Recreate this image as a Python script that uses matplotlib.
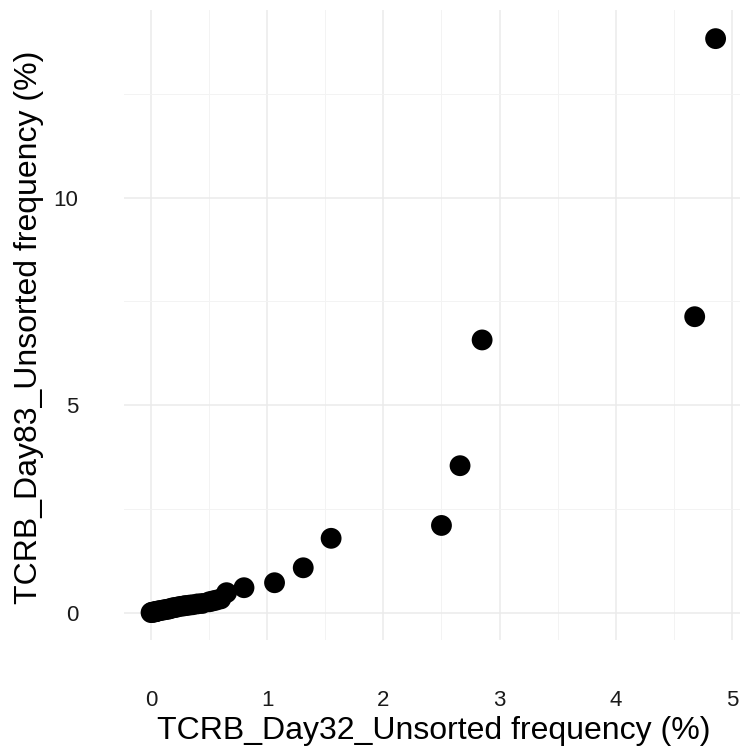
import matplotlib
matplotlib.use("Agg")
import matplotlib.pyplot as plt
from matplotlib.ticker import MultipleLocator

plt.rcParams['font.family'] = ['Liberation Sans', 'DejaVu Sans']

# Data
day32 = [0.00, 0.01, 0.02, 0.03, 0.04, 0.05, 0.06, 0.08, 0.10, 0.12, 0.14,
         0.16, 0.18, 0.20, 0.22, 0.25, 0.28, 0.30, 0.33, 0.36, 0.40, 0.44,
         0.50, 0.53, 0.56, 0.60, 0.65, 0.80, 1.063, 1.31, 1.55, 2.50,
         2.66, 2.85, 4.68, 4.86]
day83 = [0.00, 0.01, 0.01, 0.02, 0.02, 0.03, 0.04, 0.05, 0.06, 0.07, 0.08,
         0.09, 0.11, 0.12, 0.13, 0.15, 0.16, 0.17, 0.18, 0.19, 0.21, 0.22,
         0.26, 0.28, 0.30, 0.33, 0.48, 0.60, 0.72, 1.08, 1.79, 2.10,
         3.54, 6.57, 7.13, 13.83]

x_ticks = [0, 1, 2, 3, 4, 5]
y_ticks = [0, 5, 10]
x_title = "TCRB_Day32_Unsorted frequency (%)"
y_title = "TCRB_Day83_Unsorted frequency (%)"

W, H = 740, 746
fig = plt.figure(figsize=(W / 100, H / 100), dpi=100)

left_px, right_px, top_px, bottom_px = 124, 740, 10, 640
ax = fig.add_axes([left_px / W, (H - bottom_px) / H,
                   (right_px - left_px) / W, (bottom_px - top_px) / H])

ax.scatter(day32, day83, s=225, color='black', edgecolors='none', zorder=3)

ax.set_xlim(-0.233, 5.07)
ax.set_ylim(-0.66, 14.52)

ax.set_xticks(x_ticks)
ax.set_yticks(y_ticks)
ax.set_xticklabels([str(t) for t in x_ticks])
ax.set_yticklabels([str(t) for t in y_ticks])
ax.xaxis.set_minor_locator(MultipleLocator(0.5))
ax.yaxis.set_minor_locator(MultipleLocator(2.5))

ax.grid(which='major', color='#EBEBEB', linewidth=1.1, zorder=0)
ax.grid(which='minor', color='#F3F3F3', linewidth=0.7, zorder=0)
ax.set_axisbelow(True)

for sp in ax.spines.values():
    sp.set_visible(False)

ax.tick_params(which='both', length=0)
ax.tick_params(axis='x', labelsize=16, pad=36, labelcolor='#1a1a1a')
ax.tick_params(axis='y', labelsize=16, pad=33, labelcolor='#1a1a1a')

fig.text(433.5 / W, (H - 739) / H, x_title,
         ha='center', va='baseline', fontsize=23, color='black')
fig.text(29 / W, (H - 327) / H, y_title,
         ha='center', va='center', rotation=90, fontsize=23, color='black')

fig.savefig("out.png", dpi=100)
